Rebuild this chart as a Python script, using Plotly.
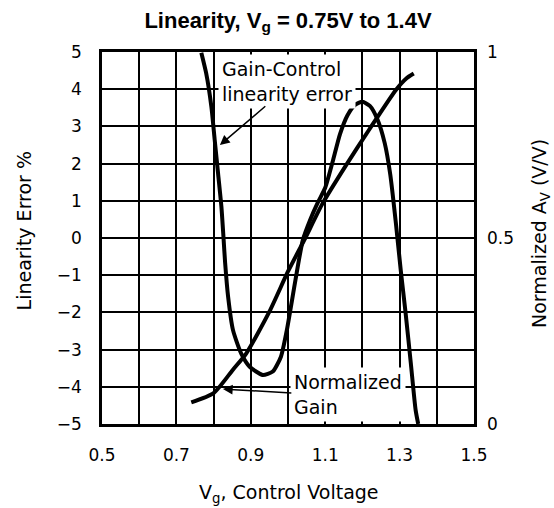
import plotly.graph_objects as go

# ---- data ----
err_x = [0.767, 0.78, 0.794, 0.803, 0.812, 0.821, 0.827, 0.831, 0.839, 0.852, 0.874, 0.897,
         0.932, 0.959, 0.981, 0.997, 1.02, 1.04, 1.06, 1.08, 1.10, 1.12, 1.14, 1.16,
         1.18, 1.20, 1.22, 1.24, 1.26, 1.275, 1.29, 1.303, 1.316, 1.33, 1.343, 1.35]
err_y = [4.98, 4.43, 3.53, 2.63, 1.74, 0.84, -0.05, -0.67, -1.58, -2.47, -3.10, -3.46,
         -3.68, -3.59, -3.19, -2.47, -1.13, -0.05, 0.5, 0.95, 1.35, 2.05, 2.8, 3.3,
         3.58, 3.66, 3.55, 3.2, 2.55, 1.7, 0.4, -0.86, -2.0, -3.35, -4.62, -5.0]

gain_x = [0.74, 0.8, 0.852, 0.888, 0.95, 1.0, 1.044, 1.093, 1.155, 1.218, 1.29, 1.318, 1.338]
gain_y = [0.058, 0.083, 0.146, 0.19, 0.302, 0.41, 0.495, 0.593, 0.694, 0.791, 0.898, 0.929, 0.942]

x_ticks = [0.5, 0.7, 0.9, 1.1, 1.3, 1.5]
x_labels = ["0.5", "0.7", "0.9", "1.1", "1.3", "1.5"]
y_ticks = [-5, -4, -3, -2, -1, 0, 1, 2, 3, 4, 5]
y_labels = ["\u22125", "\u22124", "\u22123", "\u22122", "\u22121", "0", "1", "2", "3", "4", "5"]
y2_ticks = [0, 0.5, 1]
y2_labels = ["0", "0.5", "1"]

FONT = "DejaVu Sans"

fig = go.Figure()
fig.add_trace(go.Scatter(x=err_x, y=err_y, mode="lines", yaxis="y",
                         line=dict(color="black", width=4, shape="spline", smoothing=0.6),
                         showlegend=False, hoverinfo="skip"))
fig.add_trace(go.Scatter(x=gain_x, y=gain_y, mode="lines", yaxis="y2",
                         line=dict(color="black", width=4, shape="spline", smoothing=0.6),
                         showlegend=False, hoverinfo="skip"))

axis_common = dict(showgrid=True, gridcolor="black", gridwidth=1.6, zeroline=False,
                   showline=True, linecolor="black", linewidth=2.5, mirror=True,
                   ticks="", tickfont=dict(family=FONT, size=17, color="black"))

fig.update_layout(
    width=554, height=508,
    margin=dict(l=102, r=80, t=52, b=84),
    paper_bgcolor="white", plot_bgcolor="white",
    title=dict(text="<b>Linearity, V<sub>g</sub> = 0.75V to 1.4V</b>",
               x=0.5, xref="paper", xanchor="center",
               y=1 - 20 / 508, yref="container", yanchor="middle",
               font=dict(family="Liberation Sans", size=22, color="black")),
    xaxis=dict(range=[0.5, 1.5], tickmode="array", tickvals=x_ticks, ticktext=x_labels,
               ticklabelstandoff=14,
               minor=dict(dtick=0.1, tick0=0.5, showgrid=True, gridcolor="black",
                          gridwidth=1.6, ticks=""),
               **axis_common),
    yaxis=dict(range=[-5, 5], tickmode="array", tickvals=y_ticks, ticktext=y_labels,
               ticklabelstandoff=14, **axis_common),
    yaxis2=dict(range=[0, 1], overlaying="y", side="right", tickmode="array",
                tickvals=y2_ticks, ticktext=y2_labels, showgrid=False, zeroline=False,
                showline=False, ticks="", ticklabelstandoff=12,
                tickfont=dict(family=FONT, size=17, color="black")),
)

ann_font = dict(family=FONT, size=19, color="black")
annotations = [
    # callout texts
    dict(text="Gain-Control<br>linearity error", x=0.812, y=4.946, xref="x", yref="y",
         xanchor="left", yanchor="top", align="left", showarrow=False,
         bgcolor="white", borderpad=3, font=ann_font),
    dict(text="Normalized<br>Gain", x=1.005, y=-3.468, xref="x", yref="y",
         xanchor="left", yanchor="top", align="left", showarrow=False,
         bgcolor="white", borderpad=3, font=ann_font),
    # arrows
    dict(text="", x=0.817, y=2.5, xref="x", yref="y", ax=0.943, ay=3.575,
         axref="x", ayref="y", showarrow=True, arrowhead=2, arrowsize=1.3,
         arrowwidth=1.5, arrowcolor="black", standoff=0),
    dict(text="", x=0.825, y=-4.06, xref="x", yref="y", ax=1.013, ay=-4.17,
         axref="x", ayref="y", showarrow=True, arrowhead=2, arrowsize=1.3,
         arrowwidth=1.5, arrowcolor="black", standoff=0),
    # axis titles
    dict(text="V<sub>g</sub>, Control Voltage", x=0.503, y=-0.188, xref="paper", yref="paper",
         xanchor="center", yanchor="middle", showarrow=False,
         font=dict(family=FONT, size=19, color="black")),
    dict(text="Linearity Error %", x=-0.21, y=0.52, xref="paper", yref="paper",
         xanchor="center", yanchor="middle", textangle=-90, showarrow=False,
         font=dict(family=FONT, size=19, color="black")),
    dict(text="Normalized A<sub>V</sub> (V/V)", x=1.177, y=0.513, xref="paper", yref="paper",
         xanchor="center", yanchor="middle", textangle=-90, showarrow=False,
         font=dict(family=FONT, size=19, color="black")),
]
fig.update_layout(annotations=annotations)

fig.write_html("out.html", config={"displayModeBar": False},
               post_script="document.body.style.margin='0';")
